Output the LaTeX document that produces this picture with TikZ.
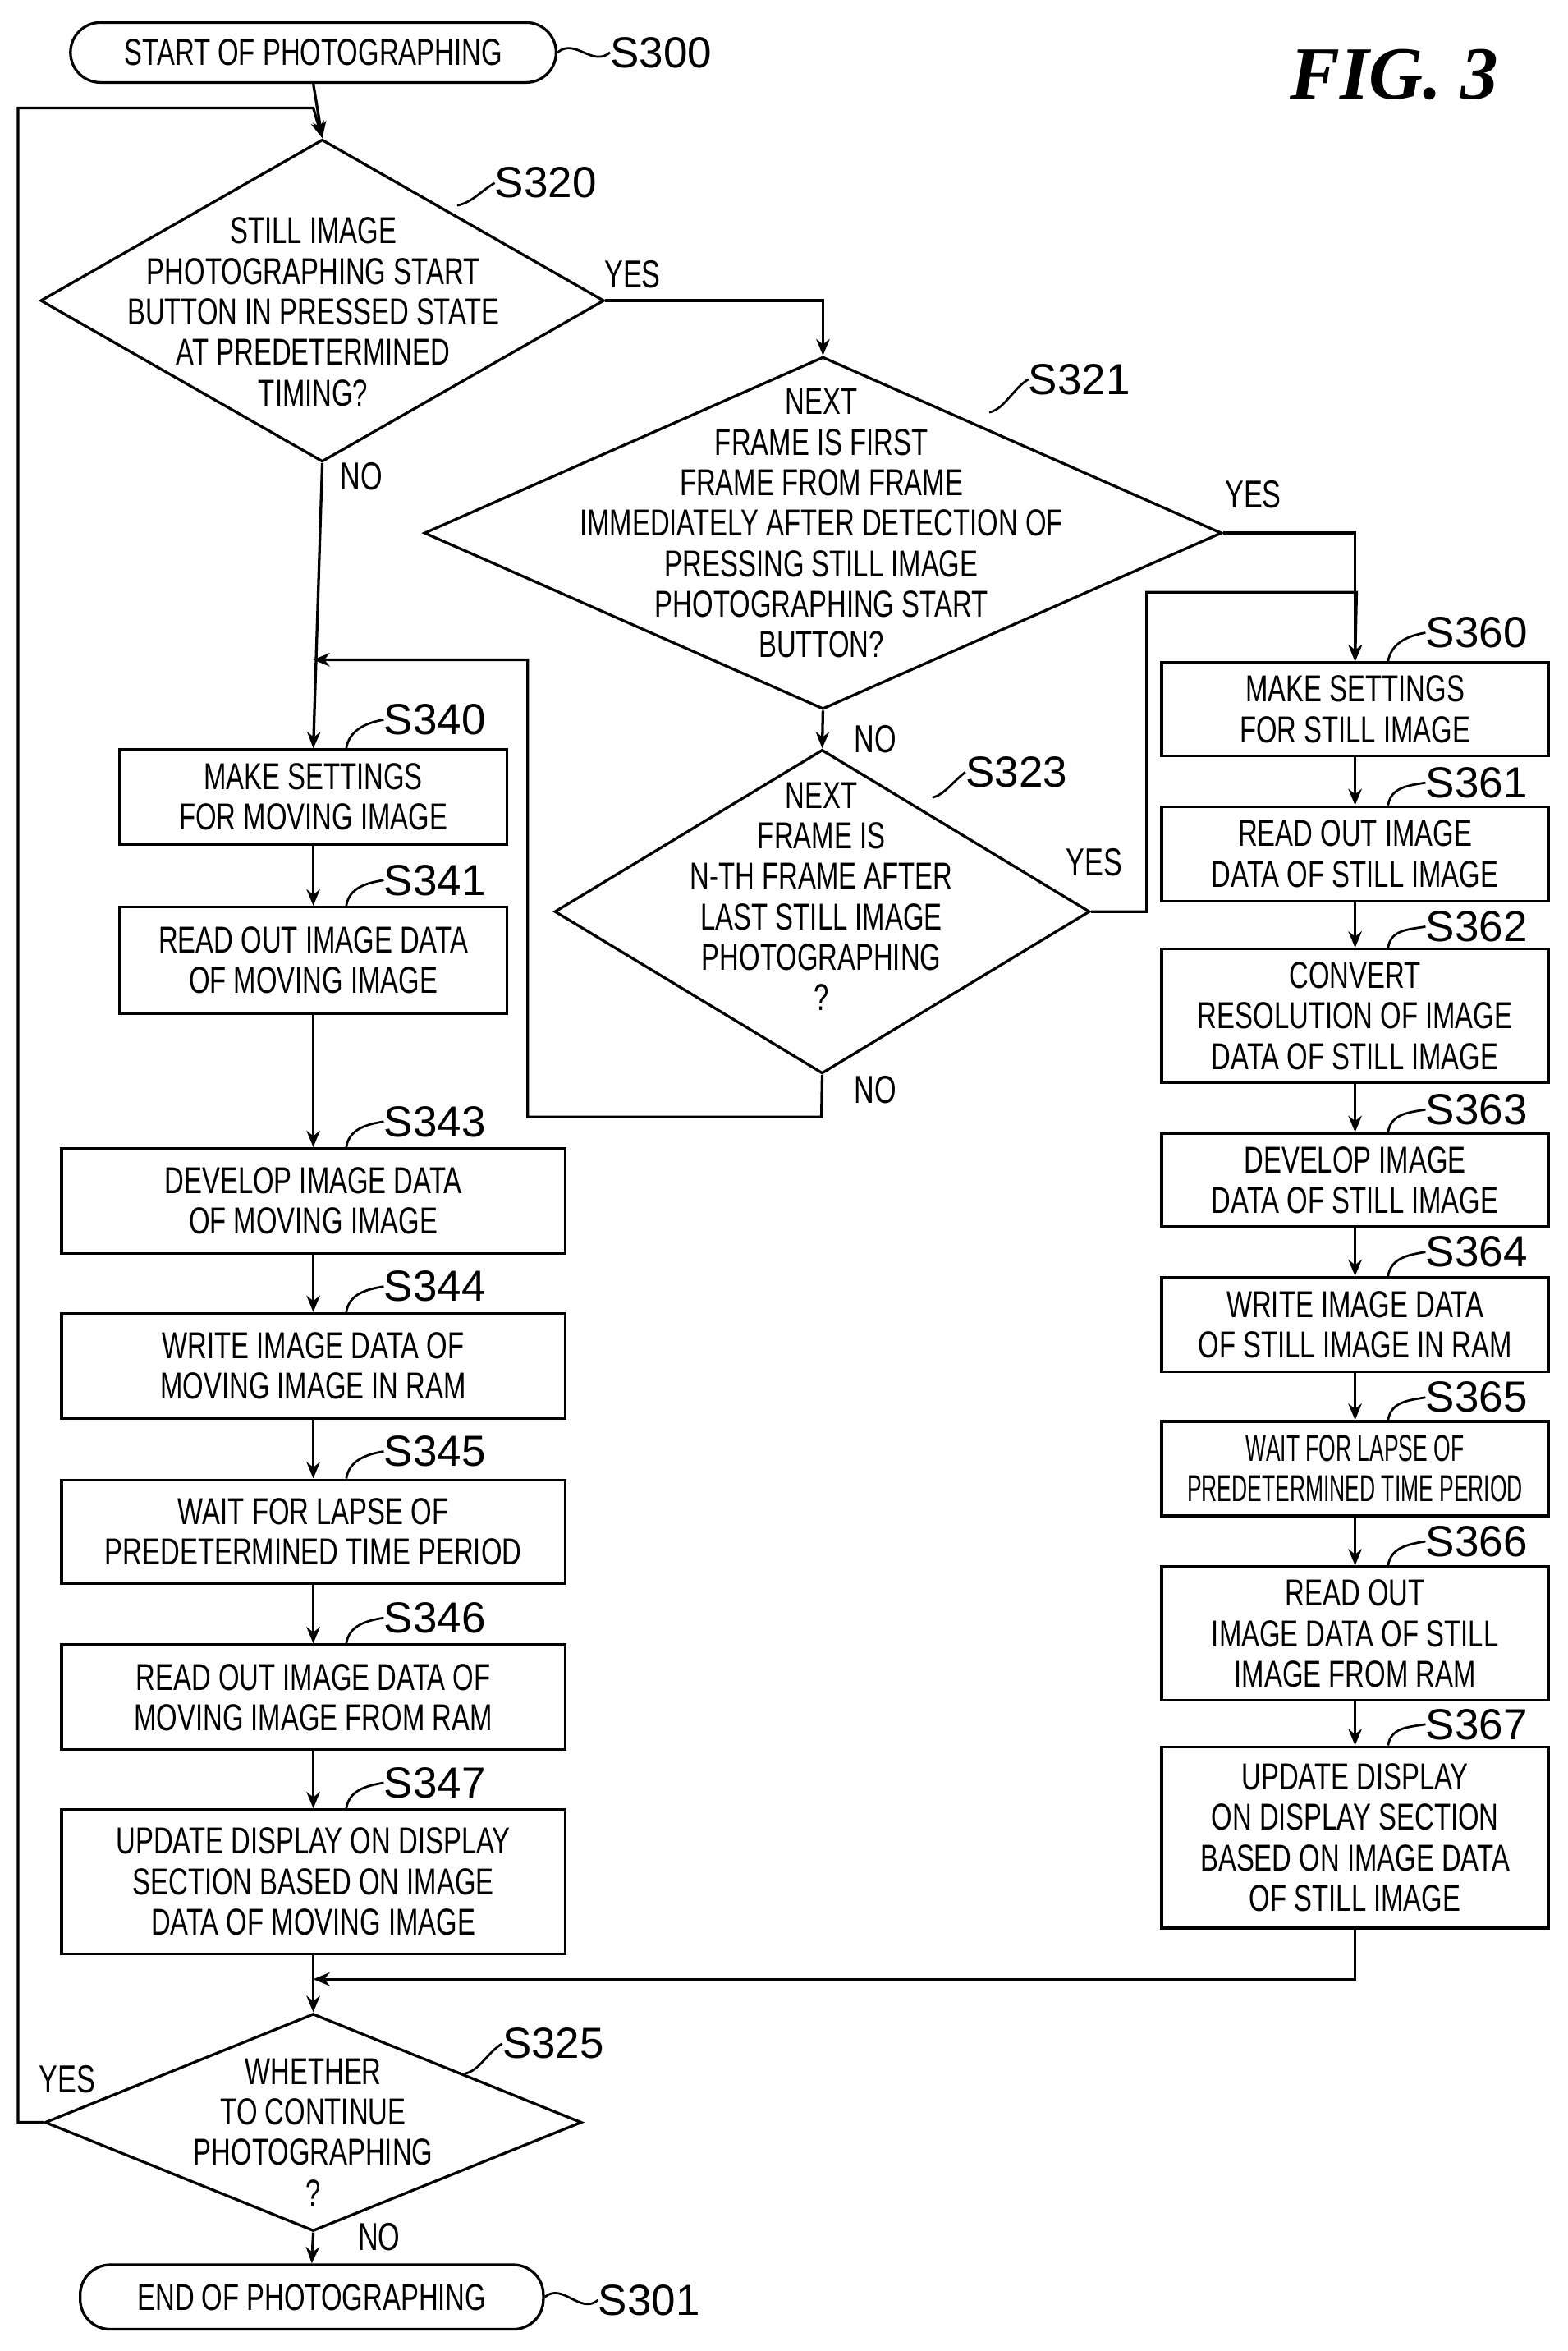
\documentclass[tikz,border=0pt]{standalone}
\usepackage{fontspec}
\setmainfont{Liberation Sans}[FakeStretch=0.72]
\newfontfamily\lblfont{Liberation Sans}
\newfontfamily\narrowfont{Liberation Sans}[FakeStretch=0.58]
\newfontfamily\figfont{Liberation Serif}
\usetikzlibrary{arrows.meta, shapes.geometric}

\tikzset{
  box/.style={draw, line width=1.8pt, rectangle, minimum width=258pt, align=center, inner sep=0pt, font=\fontsize{25}{27}\selectfont},
  wbox/.style={box, minimum width=336pt},
  term/.style={draw, line width=1.8pt, rounded corners=20pt, align=center, font=\fontsize{25}{27}\selectfont},
  dia/.style={draw, line width=1.8pt, diamond, inner sep=0pt},
  dtxt/.style={align=center, inner sep=0pt, font=\fontsize{25}{27}\selectfont},
  lbl/.style={font=\lblfont\fontsize{29}{30}\selectfont, inner sep=0pt},
  yn/.style={font=\fontsize{26}{27}\selectfont, inner sep=0pt},
  flow/.style={line width=1.8pt, -{Stealth[length=11pt,width=9pt]}},
  line/.style={line width=1.8pt},
  lead/.style={line width=1.5pt}
}

\begin{document}
\begin{tikzpicture}[x=1pt, y=-1pt]
\useasboundingbox (0,0) rectangle (1046,1568);

\node[font=\figfont\bfseries\itshape\fontsize{50}{52}\selectfont] (fig) at (930,50) {FIG. 3};

% start / end
\node[term, minimum width=324pt, minimum height=40pt] (s300) at (209,35) {START OF PHOTOGRAPHING};
\node[term, minimum width=309pt, minimum height=43pt] (s301) at (208,1532) {END OF PHOTOGRAPHING};
\node[lbl, anchor=west] (l300) at (407,35) {S300};
\node[lbl, anchor=west] (l301) at (399,1534) {S301};
\draw[lead] (s300.east) .. controls +(12,-10) and +(-12,10) .. (l300.west);
\draw[lead] (s301.east) .. controls +(12,-10) and +(-12,10) .. (l301.west);

% decisions
\node[dia, minimum width=376pt, minimum height=215pt] (d320) at (215,200.5) {};
\node[dtxt] (t320) at (209,208) {STILL IMAGE\\PHOTOGRAPHING START\\BUTTON IN PRESSED STATE\\AT PREDETERMINED\\TIMING?};
\node[dia, minimum width=532pt, minimum height=235pt] (d321) at (549,355.5) {};
\node[dtxt] (t321) at (548,349) {NEXT\\FRAME IS FIRST\\FRAME FROM FRAME\\IMMEDIATELY AFTER DETECTION OF\\PRESSING STILL IMAGE\\PHOTOGRAPHING START\\BUTTON?};
\node[dia, minimum width=357pt, minimum height=216pt] (d323) at (548.5,608) {};
\node[dtxt] (t323) at (548,598) {NEXT\\FRAME IS\\N-TH FRAME AFTER\\LAST STILL IMAGE\\PHOTOGRAPHING\\?};
\node[dia, minimum width=358pt, minimum height=145pt] (d325) at (209,1415.5) {};
\node[dtxt] (t325) at (209,1422) {WHETHER\\TO CONTINUE\\PHOTOGRAPHING\\?};

\node[lbl, anchor=west] (l320) at (330,122) {S320};
\node[lbl, anchor=west] (l321) at (686,253) {S321};
\node[lbl, anchor=west] (l323) at (644,515) {S323};
\node[lbl, anchor=west] (l325) at (335,1363) {S325};
\draw[lead] (305,137) .. controls +(10,-2) and +(-10,6) .. (l320.west);
\draw[lead] (660,275) .. controls +(10,-2) and +(-10,6) .. (l321.west);
\draw[lead] (622,532) .. controls +(8,-2) and +(-8,6) .. (l323.west);
\draw[lead] (310,1383) .. controls +(10,-2) and +(-10,6) .. (l325.west);

% moving image column
\node[box, minimum height=63pt] (s340) at (209,531.5) {MAKE SETTINGS\\FOR MOVING IMAGE};
\node[box, minimum height=71pt] (s341) at (209,640.5) {READ OUT IMAGE DATA\\OF MOVING IMAGE};
\node[wbox, minimum height=70pt] (s343) at (209,801) {DEVELOP IMAGE DATA\\OF MOVING IMAGE};
\node[wbox, minimum height=70pt] (s344) at (209,911) {WRITE IMAGE DATA OF\\MOVING IMAGE IN RAM};
\node[wbox, minimum height=69pt] (s345) at (209,1021.5) {WAIT FOR LAPSE OF\\PREDETERMINED TIME PERIOD};
\node[wbox, minimum height=70pt] (s346) at (209,1132) {READ OUT IMAGE DATA OF\\MOVING IMAGE FROM RAM};
\node[wbox, minimum height=96pt] (s347) at (209,1255) {UPDATE DISPLAY ON DISPLAY\\SECTION BASED ON IMAGE\\DATA OF MOVING IMAGE};

% still image column
\node[box, minimum height=62pt] (s360) at (904,473) {MAKE SETTINGS\\FOR STILL IMAGE};
\node[box, minimum height=63pt] (s361) at (904,569.5) {READ OUT IMAGE\\DATA OF STILL IMAGE};
\node[box, minimum height=89pt] (s362) at (904,677.5) {CONVERT\\RESOLUTION OF IMAGE\\DATA OF STILL IMAGE};
\node[box, minimum height=62pt] (s363) at (904,787) {DEVELOP IMAGE\\DATA OF STILL IMAGE};
\node[box, minimum height=63pt] (s364) at (904,883.5) {WRITE IMAGE DATA\\OF STILL IMAGE IN RAM};
\node[box, minimum height=63pt, font=\narrowfont\fontsize{25}{27}\selectfont] (s365) at (904,979.5) {WAIT FOR LAPSE OF\\PREDETERMINED TIME PERIOD};
\node[box, minimum height=89pt] (s366) at (904,1089.5) {READ OUT\\IMAGE DATA OF STILL\\IMAGE FROM RAM};
\node[box, minimum height=121pt] (s367) at (904,1225.5) {UPDATE DISPLAY\\ON DISPLAY SECTION\\BASED ON IMAGE DATA\\OF STILL IMAGE};

% step labels
\foreach \n/\x/\y in {340/256/480, 341/256/587, 343/256/748, 344/256/858, 345/256/968, 346/256/1079, 347/256/1189,
                      360/951/422, 361/951/522, 362/951/618, 363/951/740, 364/951/835, 365/951/932, 366/951/1028, 367/951/1150}{
  \node[lbl, anchor=west] (l\n) at (\x,\y) {S\n};
  \draw[lead] ([xshift=22pt]s\n.north) .. controls +(2,-12) and +(-12,2) .. (l\n.west);
}

% yes / no
\node[yn] (y320) at (422,183) {YES};
\node[yn] (n320) at (241,318) {NO};
\node[yn] (y321) at (836,330) {YES};
\node[yn] (n321) at (584,493) {NO};
\node[yn] (y323) at (730,575) {YES};
\node[yn] (n323) at (584,727) {NO};
\node[yn] (y325) at (45,1387) {YES};
\node[yn] (n325) at (253,1492) {NO};

% connectors
\coordinate (top) at (209,72);
\draw[flow] (s300.south) -- (d320.north);
\draw[flow] (d325.west) -- (12,1415.5) |- (top) -- (d320.north);
\draw[flow] (d320.east) -| (d321.north);
\draw[flow] (d321.east) -| (s360.north);
\draw[flow] (d321.south) -- (d323.north);
\draw[flow] (d323.east) -- (765,608) |- (905,395) -- (s360.north);
\draw[flow] (d323.south) -- (548,745) -| (352,440) -- (209,440);
\draw[flow] (d320.south) -- (s340.north);
\draw[flow] (s340) -- (s341);
\draw[flow] (s341) -- (s343);
\draw[flow] (s343) -- (s344);
\draw[flow] (s344) -- (s345);
\draw[flow] (s345) -- (s346);
\draw[flow] (s346) -- (s347);
\draw[flow] (s347) -- (d325.north);
\draw[flow] (s360) -- (s361);
\draw[flow] (s361) -- (s362);
\draw[flow] (s362) -- (s363);
\draw[flow] (s363) -- (s364);
\draw[flow] (s364) -- (s365);
\draw[flow] (s365) -- (s366);
\draw[flow] (s366) -- (s367);
\draw[flow] (s367.south) |- (209,1320);
\draw[flow] (d325.south) -- (s301.north);

\end{tikzpicture}
\end{document}
